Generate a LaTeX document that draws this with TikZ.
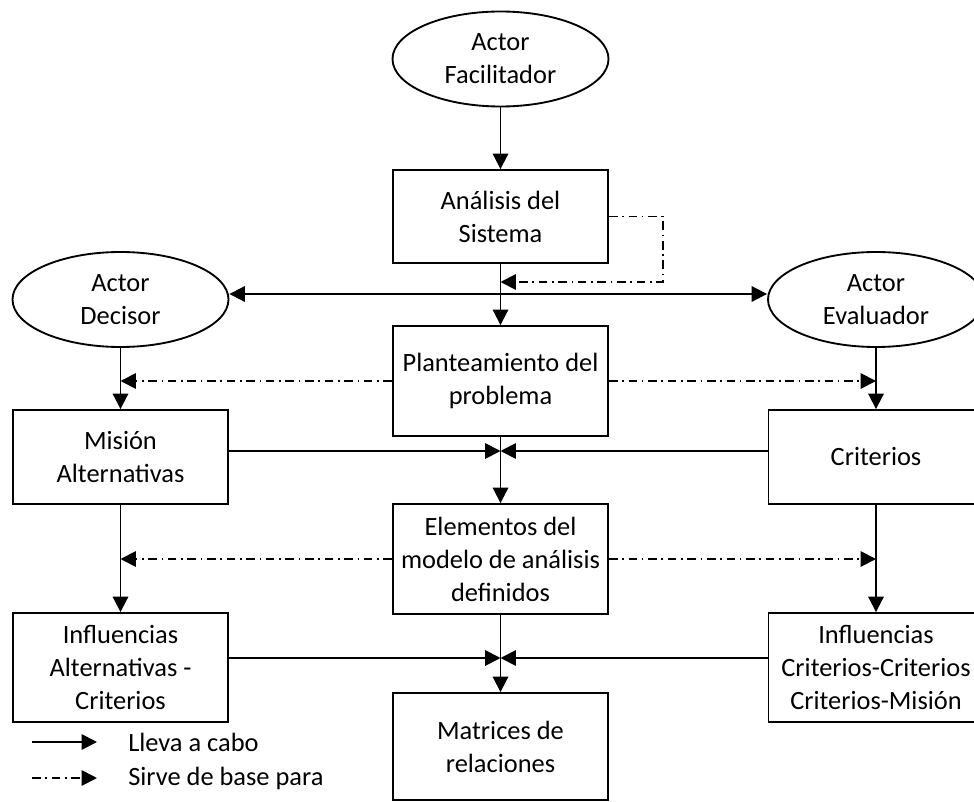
\documentclass[tikz,border=0pt]{standalone}
\usepackage{fontspec}
\setmainfont{Carlito}
\usetikzlibrary{arrows.meta,shapes.geometric}

\begin{document}
\begin{tikzpicture}[x=0.75pt,y=-0.75pt,
  font=\fontsize{19.8pt}{24.75pt}\selectfont,
  caja/.style={draw,line width=1.4pt,align=center,minimum width=161.25pt,inner sep=2pt},
  actor/.style={draw,ellipse,line width=1.4pt,align=center,minimum width=162pt,minimum height=71.25pt,inner sep=0pt},
  lleva/.style={line width=1.4pt,-{Triangle[length=11.5pt,width=11.5pt]}},
  sirve/.style={line width=1.4pt,dash pattern=on 6.5pt off 3.5pt on 1.2pt off 3.5pt,-{Triangle[length=11.5pt,width=11.5pt]}}]
	\useasboundingbox (0,0) rectangle (974,802);
	% actores
	\node[actor] (facilitador) at (500.5,59) {Actor\\Facilitador};
	\node[actor] (decisor) at (120.5,299.5) {Actor\\Decisor};
	\node[actor] (evaluador) at (876,299.5) {Actor\\Evaluador};
	% columna central
	\node[caja,minimum height=69.75pt] (analisis) at (500.5,216.5) {Análisis del\\Sistema};
	\node[caja,minimum height=82.5pt] (planteamiento) at (500.5,381) {Planteamiento del\\problema};
	\node[caja,minimum height=82.5pt] (elementos) at (500.5,559) {Elementos del\\modelo de análisis\\definidos};
	\node[caja,minimum height=80.25pt] (matrices) at (500.5,746.5) {Matrices de\\relaciones};
	% columnas laterales
	\node[caja,minimum height=70.5pt] (mision) at (120.5,457) {Misión\\Alternativas};
	\node[caja,minimum height=70.5pt] (criterios) at (876,457) {Criterios};
	\node[caja,minimum height=81.75pt] (infalt) at (120.5,667.5) {Influencias\\Alternativas -\\Criterios};
	\node[caja,minimum height=81.75pt] (infcrit) at (876,667.5) {Influencias\\Criterios-Criterios\\Criterios-Misión};

	% puntos de union
	\coordinate (reparto) at (500.5,294);
	\coordinate (retorno) at (500.5,282);
	\coordinate (union1) at (500.5,451);
	\coordinate (union2) at (500.5,658);

	% flujo central
	\draw[lleva] (facilitador) -- (analisis);
	\draw[lleva] (analisis) -- (planteamiento);
	\draw[lleva] (planteamiento) -- (elementos);
	\draw[lleva] (elementos) -- (matrices);
	%retorno del analisis
	\draw[sirve] (analisis.east) -- ++(54,0) |- (retorno);
	% hacia los actores
	\draw[lleva] (reparto) -- (reparto -| decisor.east);
	\draw[lleva] (reparto) -- (reparto -| evaluador.west);
	% columnas
	\draw[lleva] (decisor) -- (mision);
	\draw[lleva] (evaluador) -- (criterios);
	\draw[lleva] (mision) -- (infalt);
	\draw[lleva] (criterios) -- (infcrit);
	\draw[sirve] (planteamiento.west) -- (planteamiento.west -| decisor);
	\draw[sirve] (planteamiento.east) -- (planteamiento.east -| evaluador);
	\draw[sirve] (elementos.west) -- (elementos.west -| mision);
	\draw[sirve] (elementos.east) -- (elementos.east -| criterios);
	% uniones
	\draw[lleva] (union1 -| mision.east) -- (union1);
	\draw[lleva] (union1 -| criterios.west) -- (union1);
	\draw[lleva] (union2 -| infalt.east) -- (union2);
	\draw[lleva] (union2 -| infcrit.west) -- (union2);

	%Leyenda
	\coordinate (ley1a) at (32,742);
	\coordinate (ley1b) at (97,742);
	\coordinate (ley2a) at (32,778);
	\coordinate (ley2b) at (97,778);
	\draw[lleva] (ley1a) -- (ley1b);
	\draw[sirve] (ley2a) -- (ley2b);
	\node[anchor=west,inner sep=0pt] (lleva) at (128,742) {Lleva a cabo};
	\node[anchor=west,inner sep=0pt] (sirve) at (128,778) {Sirve de base para};
\end{tikzpicture}
\end{document}
